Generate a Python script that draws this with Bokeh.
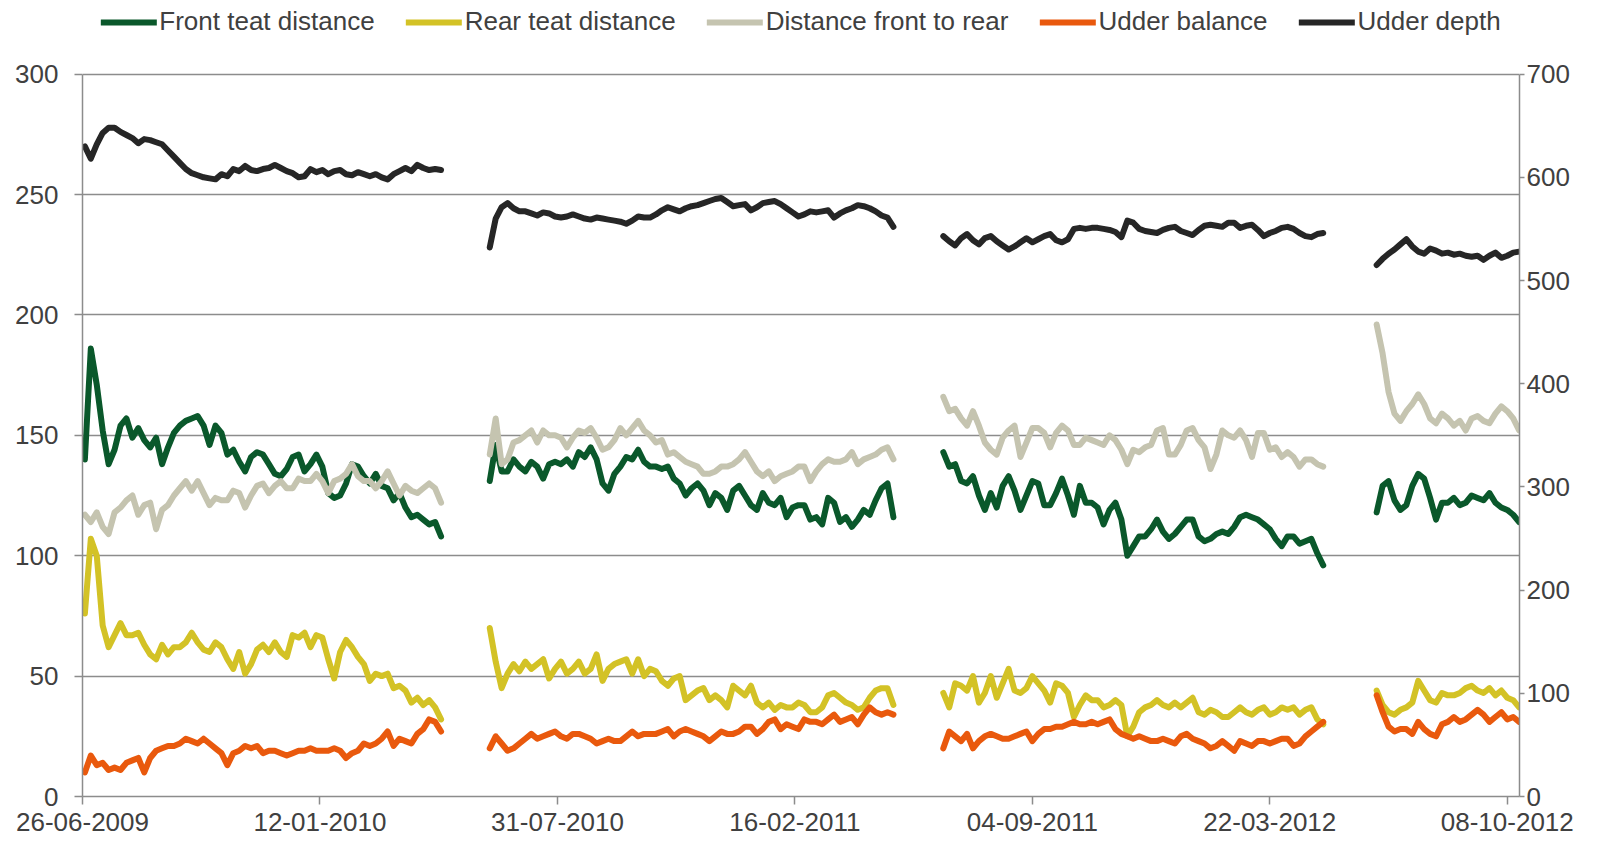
import numpy as np
from bokeh.plotting import figure
from bokeh.models import Range1d, LinearAxis, FixedTicker, Legend, LegendItem
from bokeh.embed import file_html
from bokeh.resources import INLINE

# ---------------- data ----------------
# x axis: days since 26-06-2009, ticks every 200 days
tick_days = [0, 200, 400, 600, 800, 1000, 1200]
tick_labels = ["26-06-2009", "12-01-2010", "31-07-2010", "16-02-2011",
               "04-09-2011", "22-03-2012", "08-10-2012"]
left_ticks = [0, 50, 100, 150, 200, 250, 300]
right_ticks = [0, 100, 200, 300, 400, 500, 600, 700]

# four lactations: first day of each, sampled every 5 days
seg_start_day = [2, 343, 725, 1090]
step_days = 5

# Front teat distance (left axis)
front_1 = [140, 186, 171, 152, 138, 144, 154, 157, 149, 153, 148, 145, 149, 138, 145, 151, 154, 156, 157, 158,
           154, 146, 154, 151, 142, 144, 139, 135, 141, 143, 142, 138, 134, 133, 136, 141, 142, 135, 138, 142,
           137, 126, 124, 125, 130, 138, 137, 133, 130, 134, 129, 128, 123, 126, 120, 116, 117, 115, 113, 114, 108]
front_2 = [131, 146, 135, 135, 140, 137, 135, 139, 137, 132, 138, 139, 138, 140, 137, 143, 141, 145, 140, 130,
           127, 134, 137, 141, 140, 144, 139, 137, 137, 136, 137, 132, 130, 125, 128, 130, 127, 121, 126, 124,
           119, 127, 129, 125, 121, 119, 126, 122, 121, 124, 116, 120, 121, 121, 115, 116, 113, 124, 122, 114,
           116, 112, 115, 119, 117, 123, 128, 130, 116]
front_3 = [143, 137, 138, 131, 130, 133, 125, 119, 126, 120, 129, 133, 127, 119, 125, 131, 130, 121, 121, 126,
           132, 125, 117, 129, 122, 122, 120, 113, 119, 122, 115, 100, 104, 108, 108, 111, 115, 110, 107, 109,
           112, 115, 115, 108, 106, 107, 109, 110, 109, 112, 116, 117, 116, 115, 113, 111, 107, 104, 108, 108,
           105, 106, 107, 101, 96]
front_4 = [118, 129, 131, 123, 119, 121, 129, 134, 132, 124, 115, 122, 122, 124, 121, 122, 125, 124, 123, 126,
           122, 120, 119, 117, 114]

# Rear teat distance (left axis)
rear_1 = [76, 107, 100, 71, 62, 67, 72, 67, 67, 68, 63, 59, 57, 63, 59, 62, 62, 64, 68, 64,
          61, 60, 64, 62, 57, 53, 60, 51, 55, 61, 63, 60, 64, 60, 58, 67, 66, 68, 62, 67,
          66, 57, 49, 60, 65, 62, 58, 55, 48, 51, 50, 51, 45, 46, 44, 39, 41, 38, 40, 37, 32]
rear_2 = [70, 56, 45, 51, 55, 52, 56, 53, 55, 57, 49, 53, 56, 51, 53, 56, 51, 53, 59, 48,
          53, 55, 56, 57, 51, 57, 50, 53, 52, 48, 46, 49, 50, 40, 42, 44, 45, 40, 42, 40,
          37, 46, 44, 42, 46, 39, 37, 39, 36, 38, 37, 37, 39, 38, 35, 35, 37, 42, 43, 41,
          39, 38, 36, 37, 41, 44, 45, 45, 38]
rear_3 = [43, 37, 47, 46, 44, 50, 39, 43, 50, 41, 47, 53, 44, 43, 45, 50, 47, 44, 39, 47,
          46, 43, 33, 38, 42, 40, 40, 37, 38, 40, 38, 25, 29, 35, 37, 38, 40, 38, 37, 39,
          37, 39, 41, 35, 34, 36, 35, 33, 33, 35, 37, 35, 34, 36, 37, 34, 35, 37, 36, 37,
          34, 36, 37, 32, 30]
rear_4 = [44, 38, 35, 34, 36, 37, 39, 48, 44, 40, 39, 43, 42, 42, 43, 45, 46, 44, 43, 45,
          42, 44, 41, 40, 37]

# Distance front to rear (left axis)
dist_1 = [117, 114, 118, 112, 109, 118, 120, 123, 125, 117, 121, 122, 111, 119, 121, 125, 128, 131, 127, 131,
          126, 121, 124, 123, 123, 127, 126, 120, 125, 129, 130, 126, 129, 131, 128, 128, 132, 131, 131, 134,
          131, 126, 131, 132, 134, 138, 133, 131, 131, 128, 131, 135, 130, 125, 129, 127, 126, 128, 130, 128, 122]
dist_2 = [142, 157, 138, 140, 147, 148, 150, 152, 147, 152, 150, 150, 149, 145, 149, 152, 151, 153, 149, 144,
          145, 148, 153, 150, 153, 156, 152, 150, 147, 148, 142, 143, 141, 139, 138, 137, 134, 134, 135, 137,
          137, 138, 140, 143, 139, 135, 133, 135, 131, 133, 134, 135, 137, 137, 131, 135, 138, 140, 139, 139,
          140, 143, 138, 140, 141, 142, 144, 145, 140]
dist_3 = [166, 160, 161, 157, 154, 160, 154, 147, 144, 142, 149, 152, 154, 141, 147, 153, 153, 151, 145, 151,
          154, 152, 146, 146, 149, 148, 147, 146, 150, 148, 144, 138, 144, 143, 145, 146, 152, 153, 142, 142,
          146, 152, 153, 148, 145, 136, 142, 152, 150, 149, 152, 148, 141, 151, 151, 144, 145, 141, 143, 141,
          137, 140, 140, 138, 137]
dist_4 = [196, 184, 168, 159, 156, 160, 163, 167, 163, 157, 155, 159, 157, 154, 156, 152, 157, 158, 156, 155,
          159, 162, 160, 157, 152]

# Udder balance (left axis)
balance_1 = [10, 17, 13, 14, 11, 12, 11, 14, 15, 16, 10, 16, 19, 20, 21, 21, 22, 24, 23, 22,
             24, 22, 20, 18, 13, 18, 19, 21, 20, 21, 18, 19, 19, 18, 17, 18, 19, 19, 20, 19,
             19, 19, 20, 19, 16, 18, 19, 22, 21, 22, 24, 27, 21, 24, 23, 22, 26, 28, 32, 31, 27]
balance_2 = [20, 25, 22, 19, 20, 22, 24, 26, 24, 25, 26, 27, 25, 24, 26, 26, 25, 24, 22, 23,
             24, 23, 23, 25, 27, 25, 26, 26, 26, 27, 28, 25, 27, 28, 27, 26, 25, 23, 25, 27,
             26, 26, 27, 29, 29, 26, 28, 31, 32, 28, 30, 29, 28, 32, 31, 31, 30, 32, 34, 31,
             32, 33, 30, 34, 37, 35, 34, 35, 34]
balance_3 = [20, 27, 25, 23, 26, 20, 23, 25, 26, 25, 24, 24, 25, 26, 27, 23, 26, 28, 28, 29,
             29, 30, 31, 30, 30, 31, 30, 31, 32, 28, 26, 25, 24, 25, 24, 23, 23, 24, 23, 22,
             25, 26, 24, 23, 22, 20, 21, 23, 21, 19, 23, 22, 21, 23, 23, 22, 23, 24, 24, 21,
             22, 25, 27, 29, 31]
balance_4 = [42, 35, 29, 27, 28, 28, 26, 31, 28, 26, 25, 30, 31, 33, 31, 32, 34, 36, 34, 31,
             33, 35, 32, 33, 31]

# Udder depth (right axis)
depth_1 = [630, 618, 632, 643, 648, 648, 644, 641, 638, 633, 637, 636, 634, 632, 626, 620, 614, 608, 604, 602,
           600, 599, 598, 603, 601, 608, 606, 611, 607, 606, 608, 609, 612, 609, 606, 604, 600, 601, 608, 605,
           607, 603, 606, 607, 603, 602, 605, 603, 601, 603, 600, 598, 603, 606, 609, 606, 612, 609, 607, 608, 607]
depth_2 = [532, 560, 571, 575, 570, 567, 567, 565, 563, 566, 565, 562, 561, 562, 564, 562, 560, 559, 561, 560,
           559, 558, 557, 555, 558, 562, 561, 561, 564, 568, 571, 569, 567, 570, 572, 573, 575, 577, 579, 580,
           576, 572, 573, 574, 568, 571, 575, 576, 577, 574, 570, 566, 562, 564, 567, 566, 567, 568, 561, 565,
           568, 570, 573, 572, 570, 567, 563, 561, 552]
depth_3 = [543, 538, 534, 541, 545, 539, 535, 541, 543, 538, 534, 530, 533, 537, 541, 537, 540, 543, 545, 539,
           537, 540, 550, 551, 550, 551, 551, 550, 549, 547, 542, 558, 556, 550, 548, 547, 546, 549, 551, 552,
           548, 546, 544, 549, 553, 554, 553, 552, 556, 556, 551, 553, 554, 549, 543, 546, 548, 551, 552, 550,
           546, 543, 542, 545, 546]
depth_4 = [515, 521, 526, 530, 535, 540, 533, 528, 526, 531, 529, 526, 527, 525, 526, 524, 523, 524, 520, 524,
           527, 522, 524, 527, 528]

series_names = ["Front teat distance", "Rear teat distance", "Distance front to rear",
                "Udder balance", "Udder depth"]
series_colors = ["#0A582B", "#D3C226", "#C5C4B0", "#E9590D", "#262626"]


def join(segments):
    xs, ys = [], []
    for start, vals in zip(seg_start_day, segments):
        xs.extend(start + step_days * i for i in range(len(vals)))
        ys.extend(vals)
        xs.append(np.nan)
        ys.append(np.nan)
    return xs, ys


series_data = [
    join([front_1, front_2, front_3, front_4]),
    join([rear_1, rear_2, rear_3, rear_4]),
    join([dist_1, dist_2, dist_3, dist_4]),
    join([balance_1, balance_2, balance_3, balance_4]),
    join([depth_1, depth_2, depth_3, depth_4]),
]

# ---------------- figure ----------------
FONT = "Liberation Sans"
TXT = "#404040"
GRID = "#8C8C8C"
FS = "26px"

W, H = 1604, 842
B_LEFT, B_RIGHT, B_BOTTOM = 82, 85, 46
PX_PER_UNIT = 722.4 / 300.0            # vertical scale of the left axis
frame_h = H - B_BOTTOM                  # frame reaches the top edge (legend lives there)
y_top = frame_h / PX_PER_UNIT           # left range top (above 300, room for legend)
y_top_r = y_top * 700.0 / 300.0         # right range top

p = figure(width=W, height=H, x_range=Range1d(0, 1210.3), y_range=Range1d(0, y_top),
           output_backend="svg", toolbar_location=None,
           min_border_left=B_LEFT, min_border_right=B_RIGHT, min_border_top=0,
           min_border_bottom=B_BOTTOM)
p.extra_y_ranges = {"depth": Range1d(0, y_top_r)}
p.outline_line_color = None
p.background_fill_color = "white"
p.border_fill_color = "white"

p.xgrid.visible = False
p.ygrid.grid_line_color = GRID
p.ygrid.grid_line_width = 1.5


def style_axis(a, tick_out, standoff):
    a.major_tick_out = tick_out
    a.major_tick_in = 0
    a.minor_tick_out = 0
    a.minor_tick_in = 0
    a.major_label_standoff = standoff
    a.axis_line_color = GRID
    a.axis_line_width = 1.5
    a.major_tick_line_color = GRID
    a.major_tick_line_width = 1.5
    a.major_label_text_font = FONT
    a.major_label_text_font_size = FS
    a.major_label_text_color = TXT


ax = p.xaxis[0]
ax.ticker = FixedTicker(ticks=tick_days)
ax.major_label_overrides = {d: s for d, s in zip(tick_days, tick_labels)}
style_axis(ax, 8, 8)

ay = p.yaxis[0]
ay.ticker = FixedTicker(ticks=left_ticks)
ay.bounds = (0, 300)
style_axis(ay, 8, 16)

ar = LinearAxis(y_range_name="depth", ticker=FixedTicker(ticks=right_ticks), bounds=(0, 700))
style_axis(ar, 5, 2)
p.add_layout(ar, "right")

items = []
for i, ((xs, ys), name, col) in enumerate(zip(series_data, series_names, series_colors)):
    kw = {"y_range_name": "depth"} if i == 4 else {}
    r = p.line(xs, ys, line_color=col, line_width=6, line_join="round", line_cap="round", **kw)
    items.append(LegendItem(label=name, renderers=[r]))

legend = Legend(items=items, orientation="horizontal", location="top_center",
                background_fill_alpha=0, border_line_color=None,
                glyph_width=56, glyph_height=20, label_standoff=3, spacing=31,
                padding=0, margin=6,
                label_text_font=FONT, label_text_font_size=FS, label_text_color=TXT)
p.add_layout(legend, "center")

open("out.html", "w").write(file_html(p, INLINE))
